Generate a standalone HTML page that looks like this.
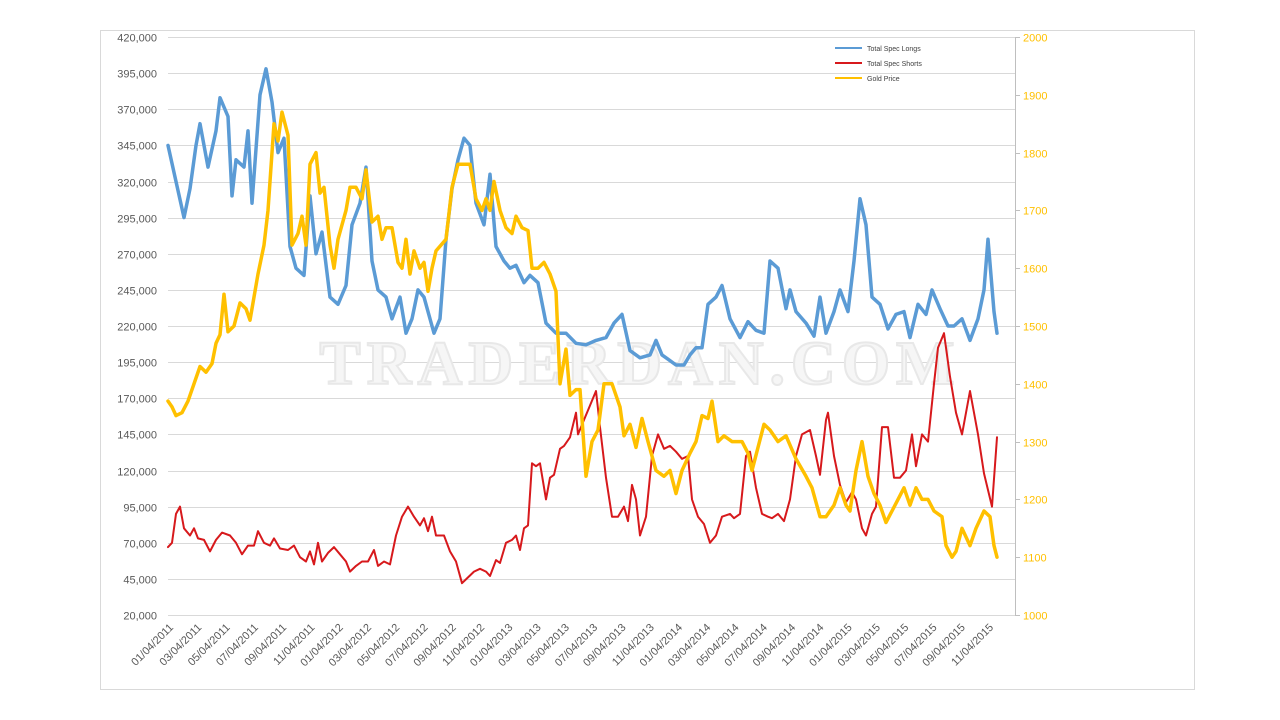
<!DOCTYPE html>
<html><head><meta charset="utf-8"><style>
body{margin:0;background:#fff;width:1280px;height:720px;overflow:hidden;font-family:"Liberation Sans",sans-serif}
svg{display:block}
</style></head><body>
<svg id="chart" width="1280" height="720" xmlns="http://www.w3.org/2000/svg">
<rect x="100.5" y="30.5" width="1094" height="659" fill="#fff" stroke="#d9d9d9"/>
<g id="grid"></g>
<text x="640" y="384" text-anchor="middle" font-family="Liberation Serif, serif" font-weight="bold" font-size="62" letter-spacing="6" fill="#f6f6f6" stroke="#e8e8e8" stroke-width="2">TRADERDAN.COM</text>
<g id="yleft"></g>
<g id="yright"></g>
<g id="xaxis"></g>
<g id="series"></g>
<g font-size="7" fill="#404040">
<g><line x1="835" y1="48" x2="862" y2="48" stroke="#5b9bd5" stroke-width="2"/><text x="867" y="51">Total Spec Longs</text></g>
<g><line x1="835" y1="63" x2="862" y2="63" stroke="#d7191c" stroke-width="2"/><text x="867" y="66">Total Spec Shorts</text></g>
<g><line x1="835" y1="78" x2="862" y2="78" stroke="#ffc000" stroke-width="2"/><text x="867" y="81">Gold Price</text></g>
</g>
</svg>
<script>
const leftTicks=[20000,45000,70000,95000,120000,145000,170000,195000,220000,245000,270000,295000,320000,345000,370000,395000,420000];
const rightTicks=[1000,1100,1200,1300,1400,1500,1600,1700,1800,1900,2000];
const xLabels=["01/04/2011","03/04/2011","05/04/2011","07/04/2011","09/04/2011","11/04/2011","01/04/2012","03/04/2012","05/04/2012","07/04/2012","09/04/2012","11/04/2012","01/04/2013","03/04/2013","05/04/2013","07/04/2013","09/04/2013","11/04/2013","01/04/2014","03/04/2014","05/04/2014","07/04/2014","09/04/2014","11/04/2014","01/04/2015","03/04/2015","05/04/2015","07/04/2015","09/04/2015","11/04/2015"];
// [week, thousands of contracts]
const longs=[[0,345],[2.4,320],[4.8,295],[6.6,315],[8.4,345],[9.6,360],[12,330],[14.4,355],[15.6,378],[18,365],[19.2,310],[20.4,335],[22.8,330],[24,355],[25.2,305],[27.6,380],[29.4,398],[31.2,375],[33,340],[34.8,350],[36.6,275],[38.4,260],[40.8,255],[42.6,310],[44.4,270],[46.2,285],[48.6,240],[51,235],[53.4,248],[55.2,290],[57.6,305],[59.4,330],[61.2,265],[63,245],[65.4,240],[67.2,225],[69.6,240],[71.4,215],[73.2,225],[75,245],[76.8,240],[78.6,225],[79.8,215],[81.6,225],[83.4,280],[85.2,315],[87,335],[88.8,350],[90.6,345],[92.4,305],[94.8,290],[96.6,325],[98.4,275],[100.8,265],[102.6,260],[104.4,262],[106.8,250],[108.6,255],[111,250],[113.4,222],[116.4,215],[119.4,215],[122.4,208],[125.4,207],[128.4,210],[131.4,212],[133.8,222],[136.2,228],[138.6,203],[141.6,198],[144.6,200],[146.4,210],[148.2,200],[150,197],[152.4,193],[154.8,193],[156.6,200],[158.4,205],[160.2,205],[162,235],[164.4,240],[166.2,248],[168.6,225],[171.6,212],[174,223],[176.4,217],[178.8,215],[180.6,265],[183,260],[185.4,232],[186.6,245],[188.4,230],[191.4,222],[193.8,213],[195.6,240],[197.4,215],[199.8,230],[201.6,245],[204,230],[205.8,265],[207.6,308],[209.4,290],[211.2,240],[213.6,235],[216,218],[218.4,228],[220.8,230],[222.6,212],[225,235],[227.4,228],[229.2,245],[231.6,232],[234,220],[235.8,220],[238.2,225],[240.6,210],[243,225],[244.8,245],[246,280],[247.8,230],[248.7,215]];
const shorts=[[0,67],[1.2,70],[2.4,90],[3.6,95],[4.8,80],[6.6,75],[7.8,80],[9,73],[10.8,72],[12.6,64],[14.4,72],[16.2,77],[18.6,75],[20.4,70],[22.2,62],[24,68],[25.8,68],[27,78],[28.8,70],[30.6,68],[31.8,73],[33.6,66],[36,65],[37.8,68],[39.6,60],[41.4,57],[42.6,64],[43.8,55],[45,70],[46.2,57],[48,63],[49.8,67],[51.6,62],[53.4,57],[54.6,50],[56.4,54],[58.2,57],[60,57],[61.8,65],[63,54],[64.8,57],[66.6,55],[68.4,75],[70.2,88],[72,95],[73.8,88],[75.6,82],[76.8,87],[78,78],[79.2,88],[80.4,75],[82.8,75],[84.6,64],[86.4,57],[88.2,42],[90,46],[91.8,50],[93.6,52],[95.4,50],[96.6,47],[98.4,58],[99.6,56],[101.4,70],[103.2,72],[104.4,75],[105.6,65],[106.8,80],[108,82],[109.2,125],[110.4,123],[111.6,125],[113.4,100],[114.6,115],[115.8,117],[117.6,135],[118.8,137],[120.6,143],[122.4,160],[123,145],[124.8,155],[126.6,165],[128.4,175],[129.6,150],[131.4,115],[133.2,88],[135,88],[136.8,95],[138,85],[139.2,110],[140.4,100],[141.6,75],[143.4,88],[145.2,130],[147,145],[148.8,135],[150.6,137],[152.4,133],[154.2,128],[156,130],[157.2,100],[159,88],[160.8,83],[162.6,70],[164.4,75],[166.2,88],[168.6,90],[169.8,87],[171.6,90],[173.4,130],[174.6,133],[176.4,108],[178.2,90],[180,88],[181.2,87],[183,90],[184.8,85],[186.6,100],[188.4,130],[190.2,145],[192.6,148],[194.4,130],[195.6,117],[197.4,155],[198,160],[199.8,130],[201.6,110],[203.4,98],[205.2,105],[206.4,100],[208.2,80],[209.4,75],[211.2,90],[212.4,95],[214.2,150],[216,150],[217.8,115],[219.6,115],[221.4,120],[223.2,145],[224.4,123],[226.2,145],[228,140],[229.8,180],[231,205],[232.8,215],[234.6,185],[236.4,160],[238.2,145],[240.6,175],[243,145],[244.8,118],[247.2,95],[248.7,143]];
// [week, USD/oz]
const gold=[[0,1370],[1.2,1360],[2.4,1345],[4.2,1350],[6,1370],[7.8,1400],[9.6,1430],[11.4,1420],[13.2,1435],[14.4,1470],[15.6,1485],[16.8,1555],[18,1490],[19.8,1500],[21.6,1540],[23.4,1530],[24.6,1510],[25.8,1550],[27,1590],[28.8,1640],[30,1700],[31.8,1850],[33,1820],[34.2,1870],[36,1830],[37.2,1640],[39,1660],[40.2,1690],[41.4,1640],[42.6,1780],[44.4,1800],[45.6,1730],[46.8,1740],[48.6,1640],[49.8,1600],[51,1650],[53.4,1700],[54.6,1740],[56.4,1740],[58.2,1720],[59.4,1770],[61.2,1680],[63,1690],[64.2,1650],[65.4,1670],[67.2,1670],[69,1610],[70.2,1600],[71.4,1650],[72.6,1590],[73.8,1630],[75.6,1600],[76.8,1610],[78,1560],[79.2,1600],[80.4,1630],[83.4,1650],[85.2,1740],[87,1780],[88.8,1780],[90.6,1780],[92.4,1720],[94.2,1700],[95.4,1720],[96.6,1700],[97.8,1750],[99.6,1700],[101.4,1670],[103.2,1660],[104.4,1690],[106.2,1670],[108,1665],[109.2,1600],[111,1600],[112.8,1610],[114.6,1590],[116.4,1560],[117.6,1400],[119.4,1460],[120.6,1380],[122.4,1390],[123.6,1390],[125.4,1240],[127.2,1300],[129,1320],[130.8,1400],[133.2,1400],[135.6,1360],[136.8,1310],[138.6,1330],[140.4,1290],[142.2,1340],[144,1300],[146.4,1250],[148.8,1240],[150.6,1250],[152.4,1210],[154.2,1250],[156.6,1280],[158.4,1300],[160.2,1345],[162,1340],[163.2,1370],[165,1300],[166.8,1310],[169.2,1300],[172.2,1300],[174,1280],[175.2,1250],[177,1290],[178.8,1330],[180.6,1320],[183,1300],[185.4,1310],[188.4,1270],[191.4,1240],[193.2,1220],[195.6,1170],[197.4,1170],[199.8,1190],[201.6,1220],[203.4,1190],[204.6,1180],[206.4,1250],[208.2,1300],[210,1240],[211.8,1210],[213.6,1190],[215.4,1160],[217.2,1180],[219,1200],[220.8,1220],[222.6,1190],[224.4,1220],[226.2,1200],[228,1200],[229.8,1180],[232.2,1170],[233.4,1120],[235.2,1100],[236.4,1110],[238.2,1150],[240.6,1120],[242.4,1150],[244.8,1180],[246.6,1170],[247.8,1120],[248.7,1100]];

const NS="http://www.w3.org/2000/svg";
const X0=168,X1=997,W_MAX=248.7,PT=37,PB=615;
const xS=w=>X0+w/W_MAX*(X1-X0);
const yL=v=>PB-(v-20000)/400000*(PB-PT);
const yR=v=>PB-(v-1000)/1000*(PB-PT);
function mk(tag,attrs,parent){const e=document.createElementNS(NS,tag);for(const k in attrs)e.setAttribute(k,attrs[k]);parent.appendChild(e);return e;}
const grid=document.getElementById('grid'),yl=document.getElementById('yleft'),yr=document.getElementById('yright'),xa=document.getElementById('xaxis'),ser=document.getElementById('series');
leftTicks.forEach(v=>{
  const y=Math.round(yL(v))+0.5;
  const g=mk('line',{x1:X0,x2:1015,y1:y,y2:y,stroke:'#d9d9d9','stroke-width':1},grid);
  
  
  const t=mk('text',{x:157,y:y+4,'text-anchor':'end','font-size':11,fill:'#595959'},yl);
  
  
  t.textContent=v.toLocaleString('en-US');
});
const ax=mk('line',{x1:1015.5,x2:1015.5,y1:PT,y2:PB,stroke:'#bfbfbf'},yr);


rightTicks.forEach(v=>{
  const y=Math.round(yR(v))+0.5;
  const tk=mk('line',{x1:1015,x2:1020,y1:y,y2:y,stroke:'#bfbfbf'},yr);
  
  
  const t=mk('text',{x:1023,y:y+4,'font-size':11,fill:'#ffc000'},yr);
  
  
  t.textContent=v;
});
xLabels.forEach((s,i)=>{
  const x=170+i*(990-170)/(xLabels.length-1);
  const t=mk('text',{x:x+4,y:628,'text-anchor':'end','font-size':11,fill:'#595959',transform:`rotate(-45 ${x+4} 628)`},xa);
  
  
  t.textContent=s;
});
function line(data,sc,mult,color,w,name){
  const d=data.map((p,i)=>(i?'L':'M')+xS(p[0]).toFixed(1)+','+sc(p[1]*mult).toFixed(1)).join('');
  const p=mk('path',{d:d,fill:'none',stroke:color,'stroke-width':w,'stroke-linejoin':'round','stroke-linecap':'round'},ser);
  
  
}
line(longs,yL,1000,'#5b9bd5',3.5,'longs-line');
line(shorts,yL,1000,'#d7191c',2,'shorts-line');
line(gold,yR,1,'#ffc000',3.5,'gold-price-line');
</script>
</body></html>
